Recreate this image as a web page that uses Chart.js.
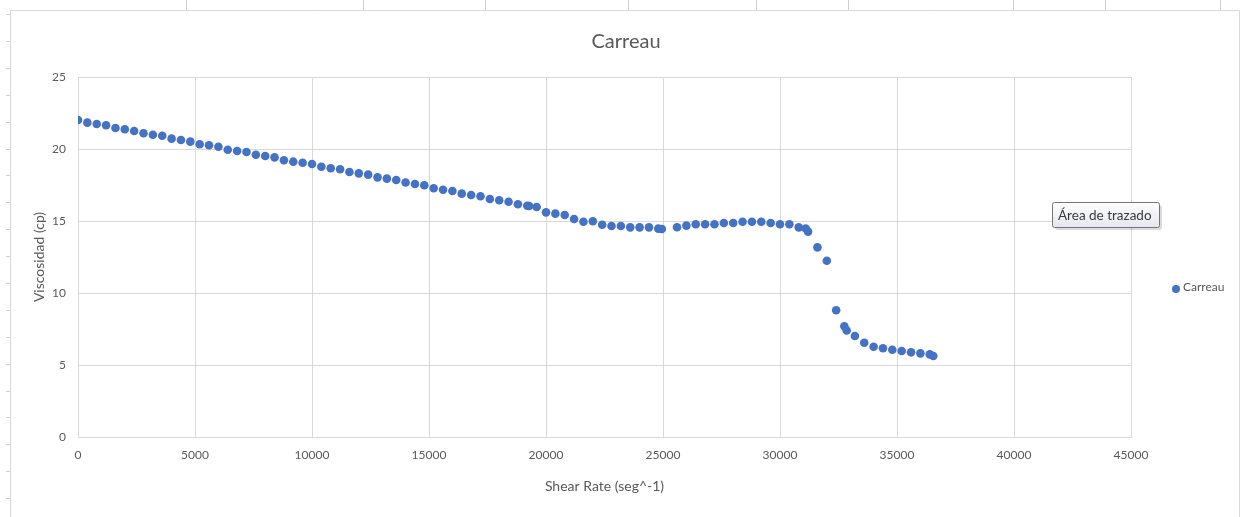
<!DOCTYPE html>
<html>
<head>
<meta charset="utf-8">
<script src="https://cdn.jsdelivr.net/npm/chart.js@4/dist/chart.umd.min.js"></script>
<style>
  html, body { margin: 0; padding: 0; background: #ffffff; overflow: hidden; }
  canvas { display: block; }
</style>
</head>
<body>
<canvas id="chart" width="1243" height="517"></canvas>
<script>
// Carreau model: viscosity against shear rate
const seriesName = 'Carreau';
const chartTitle = 'Carreau';
const xAxisTitle = 'Shear Rate (seg^-1)';
const yAxisTitle = 'Viscosidad (cp)';
const hoverNote = 'Área de trazado';

const shearRate = [
  0, 400, 800, 1200, 1600, 2000, 2400, 2800, 3200, 3600,
  4000, 4400, 4800, 5200, 5600, 6000, 6400, 6800, 7200, 7600,
  8000, 8400, 8800, 9200, 9600, 10000, 10400, 10800, 11200, 11600,
  12000, 12400, 12800, 13200, 13600, 14000, 14400, 14800, 15200, 15600,
  16000, 16400, 16800, 17200, 17600, 18000, 18400, 18800, 19200, 19280,
  19600, 20000, 20400, 20800, 21200, 21600, 22000, 22400, 22800, 23200,
  23600, 24000, 24400, 24800, 24950, 25600, 26000, 26400, 26800, 27200,
  27600, 28000, 28400, 28800, 29200, 29600, 30000, 30400, 30800, 31100,
  31200, 31600, 32000, 32400, 32750, 32850, 33200, 33600, 34000, 34400,
  34800, 35200, 35600, 36000, 36400, 36550
];

const viscosity = [
  22.01, 21.83, 21.74, 21.65, 21.46, 21.37, 21.25, 21.09, 20.99, 20.92,
  20.72, 20.63, 20.51, 20.33, 20.26, 20.16, 19.95, 19.86, 19.79, 19.60,
  19.51, 19.42, 19.22, 19.12, 19.05, 18.96, 18.77, 18.66, 18.59, 18.40,
  18.31, 18.22, 18.03, 17.94, 17.85, 17.67, 17.57, 17.48, 17.27, 17.17,
  17.08, 16.90, 16.81, 16.72, 16.53, 16.44, 16.34, 16.16, 16.06, 16.04,
  15.97, 15.60, 15.51, 15.42, 15.14, 14.95, 14.98, 14.74, 14.65, 14.65,
  14.56, 14.56, 14.56, 14.47, 14.44, 14.57, 14.68, 14.77, 14.77, 14.77,
  14.86, 14.86, 14.95, 14.95, 14.95, 14.86, 14.77, 14.77, 14.56, 14.48,
  14.26, 13.17, 12.24, 8.80, 7.69, 7.40, 7.01, 6.55, 6.27, 6.16,
  6.06, 5.97, 5.88, 5.81, 5.74, 5.63
];

const xTicks = [0, 5000, 10000, 15000, 20000, 25000, 30000, 35000, 40000, 45000];
const yTicks = [0, 5, 10, 15, 20, 25];

const markerColor = '#4472C4';
const textColor = '#595959';
const gridColor = '#d9d9d9';
const fontFamily = 'Lato, "Open Sans", sans-serif';

// Worksheet frame, legend entry and the hover note drawn around the chart
const framePlugin = {
  id: 'sheetFrame',
  beforeDraw(chart) {
    const ctx = chart.ctx;
    ctx.save();
    ctx.fillStyle = '#ffffff';
    ctx.fillRect(0, 0, chart.width, chart.height);
    // column boundary marks along the top
    ctx.strokeStyle = '#d0d0d0';
    ctx.lineWidth = 1;
    [186, 363, 485, 628, 756, 848, 1013, 1105, 1220].forEach(x => {
      ctx.beginPath();
      ctx.moveTo(x + 0.5, 0);
      ctx.lineTo(x + 0.5, 10);
      ctx.stroke();
    });
    // row boundary marks along the left
    for (let y = 14; y < chart.height; y += 26.9) {
      const yy = Math.round(y) + 0.5;
      ctx.beginPath();
      ctx.moveTo(6, yy);
      ctx.lineTo(10, yy);
      ctx.stroke();
    }
    // chart object border
    ctx.strokeStyle = '#d9d9d9';
    ctx.beginPath();
    ctx.moveTo(10.5, chart.height);
    ctx.lineTo(10.5, 10.5);
    ctx.lineTo(1239.5, 10.5);
    ctx.lineTo(1239.5, chart.height);
    ctx.stroke();
    ctx.restore();
  },
  afterDraw(chart) {
    const ctx = chart.ctx;
    const ds = chart.data.datasets[0];
    ctx.save();
    // legend entry
    ctx.fillStyle = ds.backgroundColor;
    ctx.beginPath();
    ctx.arc(1176, 289, 4, 0, Math.PI * 2);
    ctx.fill();
    ctx.fillStyle = textColor;
    ctx.font = '12px ' + fontFamily;
    ctx.textBaseline = 'middle';
    ctx.textAlign = 'left';
    ctx.fillText(ds.label, 1183, 287);

    // hover note box
    const bx = 1052, by = 202, bw = 107, bh = 25;
    ctx.fillStyle = 'rgba(0,0,0,0.14)';
    ctx.beginPath();
    ctx.roundRect(bx + 3, by + 3, bw, bh, 3);
    ctx.fill();
    const g = ctx.createLinearGradient(0, by, 0, by + bh);
    g.addColorStop(0, '#ffffff');
    g.addColorStop(1, '#e6e7ee');
    ctx.fillStyle = g;
    ctx.beginPath();
    ctx.roundRect(bx + 0.5, by + 0.5, bw, bh, 2);
    ctx.fill();
    ctx.strokeStyle = '#767676';
    ctx.lineWidth = 1;
    ctx.stroke();
    ctx.fillStyle = '#3b3b3b';
    ctx.font = '13.5px ' + fontFamily;
    ctx.fillText(hoverNote, bx + 6, by + bh / 2 + 1);
    ctx.restore();
  }
};

function draw() {
  Chart.defaults.font.family = fontFamily;
  Chart.defaults.color = textColor;

  new Chart(document.getElementById('chart'), {
    type: 'scatter',
    data: {
      datasets: [{
        label: seriesName,
        data: shearRate.map((x, i) => ({ x: x, y: viscosity[i] })),
        backgroundColor: markerColor,
        borderColor: markerColor,
        pointRadius: 4.3,
        pointHoverRadius: 4.3,
        pointBorderWidth: 0
      }]
    },
    options: {
      responsive: false,
      animation: false,
      devicePixelRatio: 1,
      events: [],
      layout: { padding: { left: 9, right: 0, top: 0, bottom: 18 } },
      plugins: {
        legend: { display: false },
        tooltip: { enabled: false },
        title: {
          display: true,
          text: chartTitle,
          color: textColor,
          font: { family: fontFamily, size: 20, weight: 'normal' },
          padding: { top: 30, bottom: 23 }
        }
      },
      scales: {
        x: {
          type: 'linear',
          min: xTicks[0],
          max: xTicks[xTicks.length - 1],
          afterBuildTicks: s => { s.ticks = xTicks.map(v => ({ value: v })); },
          afterFit: s => { s.height = 62; },
          grid: { color: gridColor, drawTicks: false },
          border: { color: gridColor },
          ticks: {
            color: textColor,
            font: { size: 12 },
            padding: 11,
            maxRotation: 0,
            autoSkip: false,
            callback: v => String(v)
          },
          title: {
            display: true,
            text: xAxisTitle,
            color: textColor,
            font: { size: 14 },
            padding: { top: 4, bottom: 4 }
          }
        },
        y: {
          type: 'linear',
          min: yTicks[0],
          max: yTicks[yTicks.length - 1],
          afterBuildTicks: s => { s.ticks = yTicks.map(v => ({ value: v })); },
          afterFit: s => { s.width = 69; },
          grid: { color: gridColor, drawTicks: false },
          border: { color: gridColor },
          ticks: {
            color: textColor,
            font: { size: 12 },
            padding: 12,
            callback: v => String(v)
          },
          title: {
            display: true,
            text: yAxisTitle,
            color: textColor,
            font: { size: 14 },
            padding: { top: 22, bottom: 0 }
          }
        },
        legendSpace: {
          type: 'linear',
          position: 'right',
          display: true,
          grid: { display: false },
          border: { display: false },
          ticks: { display: false },
          afterFit: s => { s.width = 112; }
        }
      }
    },
    plugins: [framePlugin]
  });
}

if (document.fonts && document.fonts.load) {
  Promise.all([
    document.fonts.load('12px Lato'),
    document.fonts.load('20px Lato')
  ]).then(draw, draw);
} else {
  draw();
}
</script>
</body>
</html>
